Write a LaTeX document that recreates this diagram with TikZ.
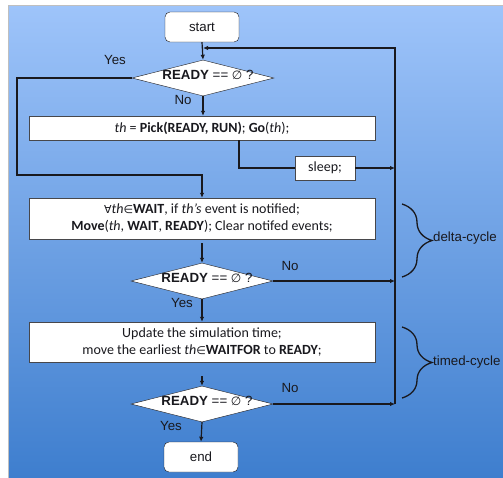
\documentclass[tikz,border=0pt]{standalone}
\usepackage{fontspec}
\setmainfont{Liberation Sans}
\newfontfamily\boxfont{Carlito}
\newfontfamily\dvsym{DejaVu Sans}
\usetikzlibrary{arrows.meta,positioning,shapes.geometric,decorations.pathreplacing,calc}
\newcommand{\nullset}{{\dvsym\fontsize{12}{14}\selectfont ∅}}
\newcommand{\forallsym}{{\dvsym\fontsize{11}{14}\selectfont ∀}}
\newcommand{\insym}{{\dvsym\fontsize{11}{14}\selectfont ∈}}
\definecolor{bgtop}{RGB}{158,196,250}
\definecolor{bgbot}{RGB}{62,126,206}
\definecolor{ink}{RGB}{25,25,30}
\tikzset{
  terminal/.style={draw=ink, rounded corners=5pt, fill=white, align=center, minimum width=74pt, minimum height=30pt, inner sep=2pt},
  process/.style={draw=ink!80, fill=white, align=center, minimum width=346pt, inner sep=2pt, font=\boxfont\fontsize{14}{17}\selectfont},
  smallbox/.style={draw=ink!80, fill=white, align=center, minimum width=60pt, minimum height=24pt, inner sep=2pt, font=\boxfont\fontsize{14}{17}\selectfont},
  decision/.style={draw=ink, diamond, fill=white, minimum width=142pt, minimum height=36pt, inner sep=0pt},
  arrow/.style={-{Latex[length=5pt,width=4.5pt]}, line width=1.2pt, draw=ink},
  link/.style={line width=1.2pt, draw=ink},
  cycle brace/.style={decorate, decoration={brace, amplitude=30pt}, line width=1.3pt, draw=ink}
}

\begin{document}
\begin{tikzpicture}[
  x=1pt,y=-1pt,
  every node/.append style={font=\fontsize{13.3}{16}\selectfont, text=ink}
]
  \useasboundingbox (0,0) rectangle (503,477);
  \fill[white] (0,0) rectangle (503,477);
  \shade[top color=bgtop, bottom color=bgbot, draw=black!25] (8.5,5) rectangle (504,478);

  \node[terminal] (start) at (202,27) {start};
  \node[decision] (d1) at (203,78) {};
  \node (d1txt) at (208,75) {\textbf{READY} == \nullset{} ?};
  \node[process, minimum height=24pt] (pick) at (202,128) {\textit{th} = \textbf{Pick(READY, RUN)}; \textbf{Go}(\textit{th});};
  \node[smallbox] (sleep) at (325,168) {sleep;};
  \node[process, minimum height=41pt] (wait) at (202,218.5) {\forallsym\textit{th}\insym\textbf{WAIT}, if \textit{th’s} event is notified;\\\textbf{Move}(\textit{th}, \textbf{WAIT}, \textbf{READY}); Clear notifed events;};
  \node[decision] (d2) at (202,281) {};
  \node (d2txt) at (207,278) {\textbf{READY} == \nullset{} ?};
  \node[process, minimum height=40pt] (upd) at (202,342) {Update the simulation time;\\move the earliest \textit{th}\insym\textbf{WAITFOR} to \textbf{READY};};
  \node[decision] (d3) at (202,404) {};
  \node (d3txt) at (207,401) {\textbf{READY} == \nullset{} ?};
  \node[terminal] (end) at (201,457) {end};

  \node (yes1) at (115,60) {Yes};
  \node (no1) at (183,100) {No};
  \node (no2) at (290,266) {No};
  \node (yes2) at (182,303) {Yes};
  \node (no3) at (290,388) {No};
  \node (yes3) at (171,426) {Yes};

  \coordinate (lft) at (17,175);
  \coordinate (tap) at (239,140);
  \coordinate (loopbot) at (395,404);
  \coordinate (looptop) at (395,48);
  \coordinate (entry) at (203,48);

  \draw[arrow] (start.south) -- (d1.north);
  \draw[arrow] (d1.south) -- (pick.north -| d1.south);
  \draw[arrow] (d1.west) -| (lft) -| (wait.north);
  \draw[link] (tap) |- (sleep.west);
  \draw[arrow] (sleep.east) -- (sleep.east -| loopbot);
  \draw[arrow] (wait.south) ++(0,4) -- (d2.north);
  \draw[arrow] (d2.east) -- (d2.east -| loopbot);
  \draw[arrow] (d2.south) -- (upd.north);
  \draw[arrow] (upd.south) ++(0,14) -- (d3.north);
  \draw[arrow] (d3.east) -- (loopbot);
  \draw[arrow] (d3.south) -- (end.north);
  \draw[arrow] (loopbot) -- (looptop) -- (entry);

  \draw[cycle brace] (402,204) -- (402,277);
  \node[anchor=west, inner sep=1pt] (delta) at (432,238) {delta-cycle};
  \draw[cycle brace] (402,327) -- (402,398);
  \node[anchor=west, inner sep=1pt] (timed) at (432,362) {timed-cycle};
\end{tikzpicture}
\end{document}
